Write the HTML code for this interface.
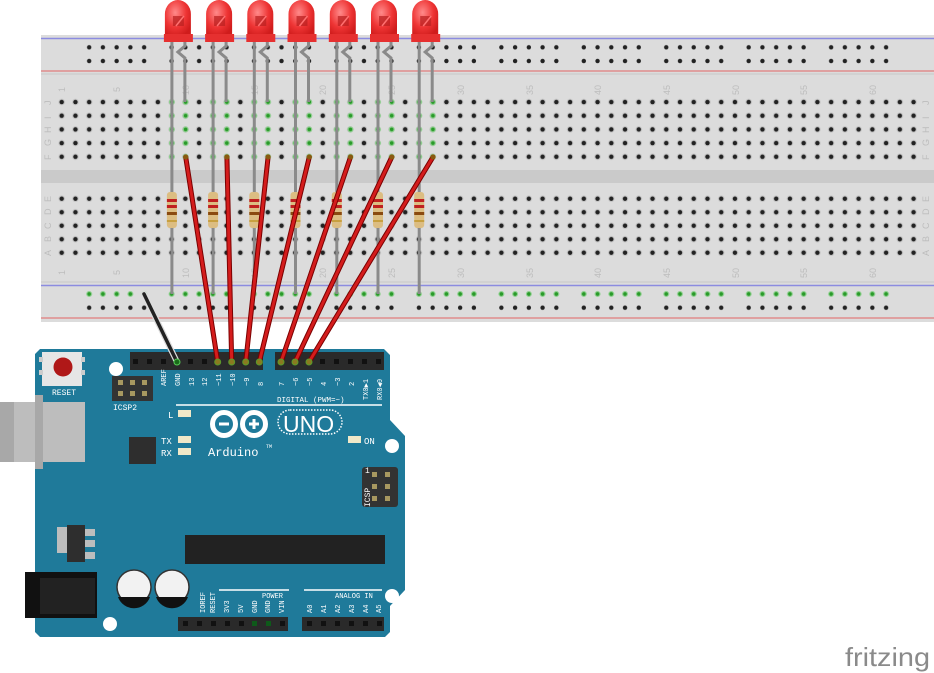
<!DOCTYPE html>
<html><head><meta charset="utf-8"><style>
html,body{margin:0;padding:0;background:#fff;width:934px;height:673px;overflow:hidden}
svg{display:block}
</style></head><body>
<svg width="934" height="673" viewBox="0 0 934 673" xmlns="http://www.w3.org/2000/svg" font-family="Liberation Mono, monospace">
<defs>
<pattern id="h" patternUnits="userSpaceOnUse" x="54.83" y="95.2" width="13.74" height="13.68">
<circle cx="6.87" cy="6.84" r="3.3" fill="#c4c4c4"/><circle cx="6.87" cy="6.84" r="2.2" fill="#222"/></pattern>
<pattern id="hb" patternUnits="userSpaceOnUse" x="54.83" y="191.9" width="13.74" height="13.5">
<circle cx="6.87" cy="6.8" r="3.3" fill="#c4c4c4"/><circle cx="6.87" cy="6.8" r="2.2" fill="#222"/></pattern>
<pattern id="r" patternUnits="userSpaceOnUse" x="82.3" y="0" width="82.44" height="13.7">
<g fill="#222"><circle cx="6.87" cy="6.85" r="2.2"/><circle cx="20.61" cy="6.85" r="2.2"/><circle cx="34.35" cy="6.85" r="2.2"/><circle cx="48.09" cy="6.85" r="2.2"/><circle cx="61.83" cy="6.85" r="2.2"/></g></pattern>
<pattern id="rg" patternUnits="userSpaceOnUse" x="82.3" y="0" width="82.44" height="13.7">
<g fill="#2a9a2a" stroke="#8fd08f" stroke-width="1.2"><circle cx="6.87" cy="6.85" r="2.4"/><circle cx="20.61" cy="6.85" r="2.4"/><circle cx="34.35" cy="6.85" r="2.4"/><circle cx="48.09" cy="6.85" r="2.4"/><circle cx="61.83" cy="6.85" r="2.4"/></g></pattern>
<pattern id="g" patternUnits="userSpaceOnUse" x="165" y="95.2" width="41.22" height="13.68">
<g fill="#2a9a2a" stroke="#8fd08f" stroke-width="1.2"><circle cx="6.87" cy="6.84" r="2.4"/><circle cx="20.61" cy="6.84" r="2.4"/></g></pattern>
<radialGradient id="led" cx="0.4" cy="0.35" r="0.7"><stop offset="0" stop-color="#ff8a8a"/><stop offset="0.6" stop-color="#ee3434"/><stop offset="1" stop-color="#d01c1c"/></radialGradient>
<g id="L">
<path d="M-6 40 L-6 157" stroke="#8a8a8a" stroke-width="3"/>
<path d="M7 40 L7 46 L0 52 L7 58 L7 102" stroke="#8a8a8a" stroke-width="3" fill="none"/>
<path d="M-13 36 L-13 14 A13 14 0 0 1 13 14 L13 36 Z" fill="url(#led)"/>
<path d="M-14 34 L15 34 L15 42 L-14 42 Z" fill="#e63030"/>
<path d="M-5 16 L6 16 L6 26 L-5 26 Z" fill="#b82020" opacity="0.7"/>
<path d="M6 16 L-2 26" stroke="#ff7070" stroke-width="1.5"/>
</g>
<g id="R">
<line x1="0" y1="157" x2="0" y2="294" stroke="#8a8a8a" stroke-width="3"/>
<rect x="-5" y="192" width="10" height="36" rx="3" fill="#dcbd82"/>
<rect x="-5" y="199" width="10" height="3" fill="#c02020"/>
<rect x="-5" y="205" width="10" height="3" fill="#c02020"/>
<rect x="-5" y="212" width="10" height="3" fill="#8a4a10"/>
<rect x="-5" y="220" width="10" height="2" fill="#c8a040"/>
</g>
</defs>

<rect x="41" y="35" width="893" height="287" fill="#dcdcdc"/>
<line x1="41" y1="38.5" x2="934" y2="38.5" stroke="#8c8ce0" stroke-width="1.5"/>
<line x1="41" y1="71" x2="934" y2="71" stroke="#e08c8c" stroke-width="1.5"/>
<line x1="41" y1="74" x2="934" y2="74" stroke="#c8c8c8" stroke-width="1"/>
<rect x="41" y="170" width="893" height="13" fill="#cacaca"/>
<line x1="41" y1="282" x2="934" y2="282" stroke="#c8c8c8" stroke-width="1"/>
<line x1="41" y1="285.5" x2="934" y2="285.5" stroke="#8c8ce0" stroke-width="1.5"/>
<line x1="41" y1="318" x2="934" y2="318" stroke="#e08c8c" stroke-width="1.5"/>
<rect x="54.83" y="95.2" width="865.6" height="68.4" fill="url(#h)"/>
<rect x="54.83" y="191.9" width="865.6" height="67.5" fill="url(#hb)"/>
<g transform="translate(0,40.45)"><rect x="82.3" y="0" width="810" height="27.4" fill="url(#r)"/></g>
<g transform="translate(0,300.85)"><rect x="82.3" y="0" width="810" height="13.7" fill="url(#r)"/></g>
<g transform="translate(0,287.15)"><rect x="82.3" y="0" width="810" height="13.7" fill="url(#rg)"/></g>
<rect x="165" y="95.2" width="280" height="68.4" fill="url(#g)"/>
<g fill="#bdbdbd" font-size="9" font-family="Liberation Sans, sans-serif">
<text transform="translate(65,92) rotate(-90)">1</text><text transform="translate(120,92) rotate(-90)">5</text>
<text transform="translate(189,95) rotate(-90)">10</text><text transform="translate(258,95) rotate(-90)">15</text>
<text transform="translate(326,95) rotate(-90)">20</text><text transform="translate(395,95) rotate(-90)">25</text>
<text transform="translate(464,95) rotate(-90)">30</text><text transform="translate(533,95) rotate(-90)">35</text>
<text transform="translate(601,95) rotate(-90)">40</text><text transform="translate(670,95) rotate(-90)">45</text>
<text transform="translate(739,95) rotate(-90)">50</text><text transform="translate(807,95) rotate(-90)">55</text>
<text transform="translate(876,95) rotate(-90)">60</text>
<text transform="translate(65,275) rotate(-90)">1</text><text transform="translate(120,275) rotate(-90)">5</text>
<text transform="translate(189,278) rotate(-90)">10</text><text transform="translate(258,278) rotate(-90)">15</text>
<text transform="translate(326,278) rotate(-90)">20</text><text transform="translate(395,278) rotate(-90)">25</text>
<text transform="translate(464,278) rotate(-90)">30</text><text transform="translate(533,278) rotate(-90)">35</text>
<text transform="translate(601,278) rotate(-90)">40</text><text transform="translate(670,278) rotate(-90)">45</text>
<text transform="translate(739,278) rotate(-90)">50</text><text transform="translate(807,278) rotate(-90)">55</text>
<text transform="translate(876,278) rotate(-90)">60</text>
<text transform="translate(51,105) rotate(-90)">J</text><text transform="translate(51,119) rotate(-90)">I</text>
<text transform="translate(51,133) rotate(-90)">H</text><text transform="translate(51,146) rotate(-90)">G</text>
<text transform="translate(51,160) rotate(-90)">F</text><text transform="translate(51,202) rotate(-90)">E</text>
<text transform="translate(51,215) rotate(-90)">D</text><text transform="translate(51,229) rotate(-90)">C</text>
<text transform="translate(51,242) rotate(-90)">B</text><text transform="translate(51,256) rotate(-90)">A</text>
<text transform="translate(929,105) rotate(-90)">J</text><text transform="translate(929,119) rotate(-90)">I</text>
<text transform="translate(929,133) rotate(-90)">H</text><text transform="translate(929,146) rotate(-90)">G</text>
<text transform="translate(929,160) rotate(-90)">F</text><text transform="translate(929,202) rotate(-90)">E</text>
<text transform="translate(929,215) rotate(-90)">D</text><text transform="translate(929,229) rotate(-90)">C</text>
<text transform="translate(929,242) rotate(-90)">B</text><text transform="translate(929,256) rotate(-90)">A</text>
</g>

<use href="#R" x="171.9" y="0"/><use href="#R" x="213.1" y="0"/><use href="#R" x="254.3" y="0"/><use href="#R" x="295.5" y="0"/>
<use href="#R" x="336.8" y="0"/><use href="#R" x="378" y="0"/><use href="#R" x="419.2" y="0"/>
<use href="#L" x="177.9" y="0"/><use href="#L" x="219.1" y="0"/><use href="#L" x="260.3" y="0"/><use href="#L" x="301.5" y="0"/>
<use href="#L" x="342.8" y="0"/><use href="#L" x="384" y="0"/><use href="#L" x="425.2" y="0"/>

<path d="M40 349 H384 L390 355 V420 L405 436 V590 L390 606 V632 L385 637 H40 L35 632 V354 Z" fill="#1f7a9a"/>
<rect x="0" y="402" width="85" height="60" fill="#bdbdbd"/>
<rect x="0" y="402" width="14" height="60" fill="#a8a8a8"/>
<rect x="35" y="395" width="8" height="74" fill="#a8a8a8"/>
<rect x="42" y="352" width="40" height="34" fill="#e6e6e6"/>
<rect x="39" y="357" width="4" height="5" fill="#ccc"/><rect x="39" y="370" width="4" height="5" fill="#ccc"/>
<rect x="81" y="357" width="4" height="5" fill="#ccc"/><rect x="81" y="370" width="4" height="5" fill="#ccc"/>
<circle cx="63" cy="367" r="9.5" fill="#b01818"/>
<text x="52" y="395" font-size="8" fill="#fff">RESET</text>
<rect x="112" y="376" width="41" height="25" fill="#333"/>
<g fill="#a89860"><rect x="118" y="380" width="5" height="5"/><rect x="130" y="380" width="5" height="5"/><rect x="142" y="380" width="5" height="5"/><rect x="118" y="391" width="5" height="5"/><rect x="130" y="391" width="5" height="5"/><rect x="142" y="391" width="5" height="5"/></g>
<text x="113" y="410" font-size="8" fill="#fff">ICSP2</text>
<g fill="#fff"><circle cx="116" cy="369" r="7"/><circle cx="392" cy="446" r="7"/><circle cx="110" cy="624" r="7"/><circle cx="392" cy="596" r="7"/></g>
<rect x="130" y="352" width="133" height="18" fill="#2a2a2a"/>
<rect x="275" y="352" width="109" height="18" fill="#2a2a2a"/>
<g fill="#111">
<rect x="133" y="359" width="5" height="5"/><rect x="147" y="359" width="5" height="5"/><rect x="161" y="359" width="5" height="5"/><rect x="188" y="359" width="5" height="5"/><rect x="202" y="359" width="5" height="5"/>
<rect x="320" y="359" width="5" height="5"/><rect x="334" y="359" width="5" height="5"/><rect x="348" y="359" width="5" height="5"/><rect x="362" y="359" width="5" height="5"/><rect x="376" y="359" width="5" height="5"/>
</g>
<g fill="#fff" font-size="7">
<text transform="translate(166,386) rotate(-90)">AREF</text><text transform="translate(180,386) rotate(-90)">GND</text>
<text transform="translate(194,386) rotate(-90)">13</text><text transform="translate(207,386) rotate(-90)">12</text>
<text transform="translate(221,386) rotate(-90)">~11</text><text transform="translate(235,386) rotate(-90)">~10</text>
<text transform="translate(249,386) rotate(-90)">~9</text><text transform="translate(263,386) rotate(-90)">8</text>
<text transform="translate(284,386) rotate(-90)">7</text><text transform="translate(298,386) rotate(-90)">~6</text>
<text transform="translate(312,386) rotate(-90)">~5</text><text transform="translate(326,386) rotate(-90)">4</text>
<text transform="translate(340,386) rotate(-90)">~3</text><text transform="translate(354,386) rotate(-90)">2</text>
<text transform="translate(368,400) rotate(-90)">TX0▶1</text><text transform="translate(382,400) rotate(-90)">RX0◀0</text>
<text x="277" y="402" font-size="7.5">DIGITAL (PWM=~)</text>
</g>
<line x1="176" y1="405" x2="382" y2="405" stroke="#fff" stroke-width="1.5"/>
<text x="168" y="418" font-size="9" fill="#fff">L</text>
<text x="161" y="444" font-size="9" fill="#fff">TX</text>
<text x="161" y="456" font-size="9" fill="#fff">RX</text>
<g fill="#f0e8c8"><rect x="178" y="410" width="13" height="7"/><rect x="178" y="436" width="13" height="7"/><rect x="178" y="448" width="13" height="7"/><rect x="348" y="436" width="13" height="7"/></g>
<text x="364" y="444" font-size="9" fill="#fff">ON</text>
<rect x="129" y="437" width="27" height="27" fill="#2e2e2e"/>
<circle cx="224" cy="424" r="11.5" fill="none" stroke="#fff" stroke-width="5"/>
<circle cx="254" cy="424" r="11.5" fill="none" stroke="#fff" stroke-width="5"/>
<rect x="219" y="422.5" width="10" height="3" fill="#fff"/>
<rect x="249" y="422.5" width="10" height="3" fill="#fff"/><rect x="252.5" y="419" width="3" height="10" fill="#fff"/>
<rect x="278" y="410" width="64" height="24" rx="12" fill="none" stroke="#fff" stroke-width="1.5" stroke-dasharray="1.5 1.5"/>
<text x="283" y="432" font-size="23" fill="#fff" font-family="Liberation Sans, sans-serif">UNO</text>
<text x="208" y="456" font-size="12" fill="#fff">Arduino</text><text x="266" y="448" font-size="5" fill="#fff">TM</text>
<rect x="362" y="467" width="36" height="40" rx="3" fill="#333"/>
<g fill="#a89860"><rect x="372" y="472" width="5" height="5"/><rect x="385" y="472" width="5" height="5"/><rect x="372" y="484" width="5" height="5"/><rect x="385" y="484" width="5" height="5"/><rect x="372" y="496" width="5" height="5"/><rect x="385" y="496" width="5" height="5"/></g>
<text x="365" y="473" font-size="8" fill="#fff">1</text>
<text transform="translate(370,507) rotate(-90)" font-size="8" fill="#fff">ICSP</text>
<rect x="185" y="535" width="200" height="29" fill="#222"/>
<rect x="57" y="527" width="10" height="26" fill="#bdbdbd"/>
<rect x="67" y="525" width="18" height="37" fill="#2e2e2e"/>
<g fill="#bdbdbd"><rect x="85" y="529" width="10" height="7"/><rect x="85" y="540" width="10" height="7"/><rect x="85" y="552" width="10" height="7"/></g>
<rect x="25" y="572" width="72" height="46" fill="#111"/>
<rect x="40" y="578" width="55" height="36" fill="#222"/>
<circle cx="134" cy="587" r="17" fill="#f2f2f2" stroke="#333" stroke-width="1.5"/>
<path d="M118 597 H150 A17 17 0 0 1 118 597 Z" fill="#111"/>
<circle cx="172" cy="587" r="17" fill="#f2f2f2" stroke="#333" stroke-width="1.5"/>
<path d="M156 597 H188 A17 17 0 0 1 156 597 Z" fill="#111"/>
<line x1="219" y1="590" x2="289" y2="590" stroke="#fff" stroke-width="1.5"/>
<line x1="304" y1="590" x2="382" y2="590" stroke="#fff" stroke-width="1.5"/>
<g fill="#fff" font-size="7">
<text x="262" y="598">POWER</text><text x="335" y="598">ANALOG IN</text>
<text transform="translate(205,613) rotate(-90)">IOREF</text><text transform="translate(215,613) rotate(-90)">RESET</text>
<text transform="translate(229,613) rotate(-90)">3V3</text><text transform="translate(243,613) rotate(-90)">5V</text>
<text transform="translate(257,613) rotate(-90)">GND</text><text transform="translate(270,613) rotate(-90)">GND</text>
<text transform="translate(284,613) rotate(-90)">VIN</text>
<text transform="translate(312,613) rotate(-90)">A0</text><text transform="translate(326,613) rotate(-90)">A1</text>
<text transform="translate(340,613) rotate(-90)">A2</text><text transform="translate(354,613) rotate(-90)">A3</text>
<text transform="translate(368,613) rotate(-90)">A4</text><text transform="translate(381,613) rotate(-90)">A5</text>
</g>
<rect x="178" y="617" width="110" height="14" fill="#2a2a2a"/>
<rect x="302" y="617" width="82" height="14" fill="#2a2a2a"/>
<g fill="#111"><rect x="183" y="621" width="5" height="5"/><rect x="197" y="621" width="5" height="5"/><rect x="211" y="621" width="5" height="5"/><rect x="225" y="621" width="5" height="5"/><rect x="239" y="621" width="5" height="5"/><rect x="280" y="621" width="5" height="5"/>
<rect x="307" y="621" width="5" height="5"/><rect x="321" y="621" width="5" height="5"/><rect x="335" y="621" width="5" height="5"/><rect x="349" y="621" width="5" height="5"/><rect x="363" y="621" width="5" height="5"/><rect x="377" y="621" width="5" height="5"/></g>
<g fill="#0e5a1a"><rect x="252" y="621" width="5" height="5"/><rect x="266" y="621" width="5" height="5"/></g>

<g stroke-linecap="round">
<line x1="144" y1="294" x2="177" y2="362" stroke="#ddd" stroke-width="6" stroke-dasharray="1 1"/>
<line x1="144" y1="294" x2="177" y2="362" stroke="#222" stroke-width="3.5"/>
<g stroke="#7a0000" stroke-width="5">
<line x1="185.7" y1="157" x2="217.7" y2="362"/><line x1="226.9" y1="157" x2="231.7" y2="362"/>
<line x1="268.1" y1="157" x2="245.7" y2="362"/><line x1="309.3" y1="157" x2="259.3" y2="362"/>
<line x1="350.5" y1="157" x2="281" y2="362"/><line x1="391.8" y1="157" x2="295" y2="362"/>
<line x1="433" y1="157" x2="309" y2="362"/></g>
<g stroke="#d41c1c" stroke-width="3">
<line x1="185.7" y1="157" x2="217.7" y2="362"/><line x1="226.9" y1="157" x2="231.7" y2="362"/>
<line x1="268.1" y1="157" x2="245.7" y2="362"/><line x1="309.3" y1="157" x2="259.3" y2="362"/>
<line x1="350.5" y1="157" x2="281" y2="362"/><line x1="391.8" y1="157" x2="295" y2="362"/>
<line x1="433" y1="157" x2="309" y2="362"/></g>
</g>
<g fill="#8a7a20" stroke="#5a9a2a" stroke-width="1">
<circle cx="217.7" cy="362" r="3"/><circle cx="231.7" cy="362" r="3"/><circle cx="245.7" cy="362" r="3"/><circle cx="259.3" cy="362" r="3"/>
<circle cx="281" cy="362" r="3"/><circle cx="295" cy="362" r="3"/><circle cx="309" cy="362" r="3"/></g>
<circle cx="177" cy="362" r="3" fill="#1a6a1a" stroke="#5c5" stroke-width="1"/>
<g fill="#8a5a10"><circle cx="185.7" cy="157" r="2.6"/><circle cx="226.9" cy="157" r="2.6"/><circle cx="268.1" cy="157" r="2.6"/><circle cx="309.3" cy="157" r="2.6"/><circle cx="350.5" cy="157" r="2.6"/><circle cx="391.8" cy="157" r="2.6"/><circle cx="433" cy="157" r="2.6"/></g>

<text x="845" y="666" font-size="26" fill="#8a8a8a" font-family="Liberation Sans, sans-serif" textLength="85" lengthAdjust="spacingAndGlyphs">fritzing</text>
</svg>
</body></html>
